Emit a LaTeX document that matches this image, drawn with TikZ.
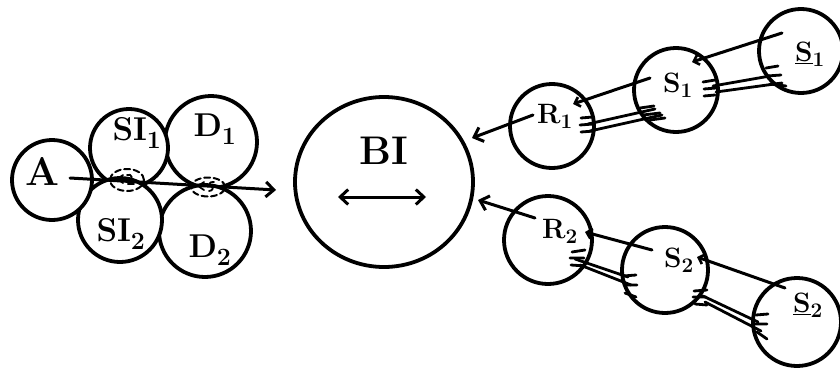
\documentclass[tikz,border=0pt]{standalone}
\usetikzlibrary{arrows.meta,shapes.geometric}
\begin{document}
\begin{tikzpicture}[x=1pt,y=-1pt,line cap=round,line join=round,
  cell/.style={circle,draw,line width=3.8pt,fill=white,inner sep=0pt},
  link/.style={line width=3pt},
  barbs/.style={line width=2.8pt},
  bigtip/.style={-{Straight Barb[length=8pt,width=15pt,line width=3pt]}},
  smalltip/.style={-{Straight Barb[length=5pt,width=10pt,line width=2.6pt]}},
  gap/.style={ellipse,draw,dashed,dash pattern=on 6pt off 3.5pt,line width=2pt,inner sep=0pt},
  big/.style={inner sep=0pt,font=\fontsize{40}{40}\selectfont\bfseries},
  mid/.style={inner sep=0pt,font=\fontsize{33}{33}\selectfont\bfseries},
  small/.style={inner sep=0pt,font=\fontsize{28}{28}\selectfont\bfseries}]
\useasboundingbox (0,0) rectangle (840,372);

% left cluster of cells
\node[cell,minimum size=92pt] (D1) at (211,142) {};
\node[cell,minimum size=78pt] (SI1) at (129,148) {};
\node[cell,minimum size=92pt] (D2) at (205,231) {};
\node[cell,minimum size=84pt] (SI2) at (120,220) {};
\node[cell,minimum size=80pt] (A) at (52,180) {};

\node[big] (la) at (42,171) {A};
\node[mid] (lsi1) at (137,133) {SI$_{\mathbf 1}$};
\node[mid] (ld1) at (215,129) {D$_{\mathbf 1}$};
\node[mid] (lsi2) at (121,234) {SI$_{\mathbf 2}$};
\node[mid] (ld2) at (210,250) {D$_{\mathbf 2}$};

% dashed contact zones along the pathway
\node[gap,minimum width=34pt,minimum height=22pt] (g1) at (127,180) {};
\node[gap,minimum width=34pt,minimum height=19pt] (g2) at (208,187) {};

% main pathway arrow
\coordinate (a0) at (70,178);
\coordinate (a1) at (276,190);
\draw[link,bigtip] (a0) -- (a1);

% marks inside the contact zones
\draw[line width=1.8pt,shift={(g1.center)}] (-4,-5) -- (-10,-1) -- (-4,3);
\draw[line width=1.8pt,shift={(g1.center)}] (0,-5) .. controls (5,-7) and (7,-1) .. (1,4) -- (7,4);
\draw[line width=1.8pt,shift={(g2.center)}] (-4,-5) -- (-10,-1) -- (-4,3);
\draw[line width=1.8pt,shift={(g2.center)}] (6,-5) .. controls (1,-6) and (0,-1) .. (3,-1) .. controls (6,0) and (5,4) .. (1,4);

% central cell
\node[ellipse,draw,line width=3.8pt,minimum width=178pt,minimum height=170pt,inner sep=0pt] (BI) at (384,182) {};
\node[big] (lbi) at (384,151) {BI};
\coordinate (bil) at (338,197);
\coordinate (bir) at (426,197);
\draw[link,{Straight Barb[length=8pt,width=15pt,line width=3pt]}-{Straight Barb[length=8pt,width=15pt,line width=3pt]}] (bil) -- (bir);

% upper chain
\node[cell,minimum size=84pt] (R1) at (552,126) {};
\node[cell,minimum size=84pt] (S1) at (676,90) {};
\node[cell,minimum size=84pt] (U1) at (801,51) {};
\node[small] (lr1) at (555,116) {R$_{\mathbf 1}$};
\node[small] (ls1) at (678,85) {S$_{\mathbf 1}$};
\node[small] (lu1) at (810,54) {\underline{S}$_{\mathbf 1}$};

\coordinate (r1o) at (533,115);
\coordinate (r1t) at (472,138);
\draw[link,bigtip] (r1o) -- (r1t);
\coordinate (s1o) at (650,78);
\coordinate (r1in) at (573,104);
\draw[link,smalltip] (s1o) -- (r1in);
\coordinate (u1o) at (782,33);
\coordinate (s1in) at (692,62);
\draw[link,smalltip] (u1o) -- (s1in);

\coordinate (p1a) at (588,124); \coordinate (q1a) at (655,109);
\coordinate (p1b) at (590,131); \coordinate (q1b) at (662,115);
\draw[barbs] (p1a) -- (q1a) (p1b) -- (q1b);
\draw[barbs] (581,118) -- (593,117) (580,125) -- (593,124) (581,132) -- (594,131);
\draw[barbs] (640,108) -- (654,106) (643,115) -- (660,113) (650,120) -- (665,118);

\coordinate (p2a) at (713,86); \coordinate (q2a) at (770,76);
\coordinate (p2b) at (716,92); \coordinate (q2b) at (782,83);
\draw[barbs] (p2a) -- (q2a) (p2b) -- (q2b);
\draw[barbs] (703,82) -- (715,80) (704,89) -- (716,88) (704,96) -- (715,95);
\draw[barbs] (766,68) -- (778,66) (767,76) -- (781,75) (770,84) -- (786,86);

% lower chain
\node[cell,minimum size=88pt] (R2) at (548,240) {};
\node[cell,minimum size=86pt] (S2) at (665,270) {};
\node[cell,minimum size=88pt] (U2) at (797,322) {};
\node[small] (lr2) at (560,231) {R$_{\mathbf 2}$};
\node[small] (ls2) at (679,260) {S$_{\mathbf 2}$};
\node[small] (lu2) at (808,305) {\underline{S}$_{\mathbf 2}$};

\coordinate (r2o) at (535,218);
\coordinate (r2t) at (478,200);
\draw[link,bigtip] (r2o) -- (r2t);
\coordinate (s2o) at (652,250);
\coordinate (r2in) at (585,232);
\draw[link,smalltip] (s2o) -- (r2in);
\coordinate (u2o) at (785,288);
\coordinate (s2in) at (697,257);
\draw[link,smalltip] (u2o) -- (s2in);

\coordinate (p3a) at (575,259); \coordinate (q3a) at (628,277);
\coordinate (p3b) at (580,265); \coordinate (q3b) at (631,285);
\draw[barbs] (p3a) -- (q3a) (p3b) -- (q3b);
\draw[barbs] (572,252) -- (585,250) (570,258) -- (584,258) (571,265) -- (585,266);
\draw[barbs] (623,276) -- (636,275) (624,285) -- (637,285) (625,293) -- (636,297);

\coordinate (p4a) at (703,296); \coordinate (q4a) at (758,322);
\coordinate (p4b) at (705,302); \coordinate (q4b) at (761,331);
\draw[barbs] (p4a) -- (q4a) (p4b) -- (q4b);
\draw[barbs] (694,291) -- (707,290) (693,297) -- (706,297) (695,304) -- (707,305);
\draw[barbs] (756,315) -- (768,314) (755,324) -- (767,324) (757,332) -- (767,339);
\end{tikzpicture}
\end{document}
